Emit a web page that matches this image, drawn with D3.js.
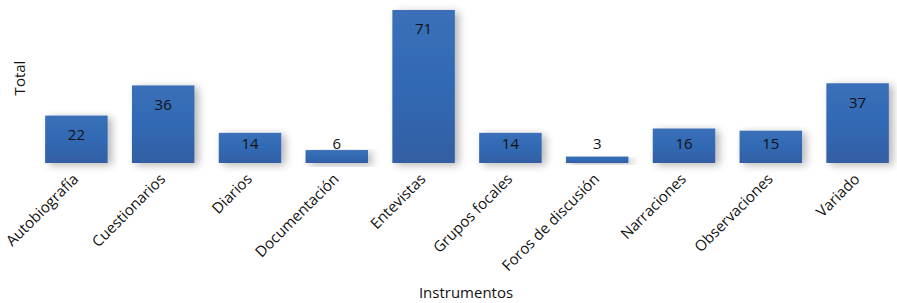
<!DOCTYPE html>
<html>
<head>
<meta charset="utf-8">
<script src="https://cdn.jsdelivr.net/npm/d3@7"></script>
<style>
  body { margin: 0; background: #fff; }
  svg { display: block; font-family: "Open Sans", "Noto Sans", sans-serif; }
</style>
</head>
<body>
<svg id="chart" width="897" height="303"></svg>
<script>
// data
var categories = ["Autobiografía", "Cuestionarios", "Diarios", "Documentación", "Entevistas",
                  "Grupos focales", "Foros de discusión", "Narraciones", "Observaciones", "Variado"];
var totals = [22, 36, 14, 6, 71, 14, 3, 16, 15, 37];

var svg = d3.select("#chart");
var baseY = 163;

var x = d3.scaleBand()
    .domain(categories)
    .range([33, 901])
    .paddingInner(0.28)
    .paddingOuter(0.14);

var y = d3.scaleLinear()
    .domain([0, 71])
    .range([baseY, 10]);

var defs = svg.append("defs");

// bar gradient, slightly darker at the bottom
var grad = defs.append("linearGradient")
    .attr("id", "barGrad")
    .attr("x1", 0).attr("y1", 0).attr("x2", 0).attr("y2", 1);
grad.append("stop").attr("offset", "0%").attr("stop-color", "#3b70b9");
grad.append("stop").attr("offset", "50%").attr("stop-color", "#3169b4");
grad.append("stop").attr("offset", "100%").attr("stop-color", "#345fa3");

// soft shadow to the lower right
var shadow = defs.append("filter")
    .attr("id", "shadow")
    .attr("x", "-20%").attr("y", "-20%")
    .attr("width", "150%").attr("height", "150%");
shadow.append("feGaussianBlur").attr("in", "SourceAlpha").attr("stdDeviation", 4).attr("result", "blur");
shadow.append("feOffset").attr("in", "blur").attr("dx", 4).attr("dy", 2).attr("result", "off");
shadow.append("feComponentTransfer").attr("in", "off").attr("result", "soft")
  .append("feFuncA").attr("type", "linear").attr("slope", 0.3);
var merge = shadow.append("feMerge");
merge.append("feMergeNode").attr("in", "soft");
merge.append("feMergeNode").attr("in", "SourceGraphic");

var data = categories.map(function(c, i) { return { cat: c, val: totals[i] }; });

svg.append("g").selectAll("rect")
    .data(data)
    .enter().append("rect")
    .attr("x", d => x(d.cat))
    .attr("y", d => y(d.val))
    .attr("width", x.bandwidth())
    .attr("height", d => baseY - y(d.val))
    .attr("fill", "url(#barGrad)")
    .attr("filter", "url(#shadow)");

// value labels
svg.append("g").selectAll("text")
    .data(data)
    .enter().append("text")
    .attr("x", d => x(d.cat) + x.bandwidth() / 2)
    .attr("y", d => Math.min(y(d.val) + 19, baseY - 19))
    .attr("dy", "0.35em")
    .attr("text-anchor", "middle")
    .attr("font-size", 15)
    .attr("fill", "#111")
    .text(d => d.val);

// category labels, rotated
svg.append("g").selectAll("text")
    .data(categories)
    .enter().append("text")
    .attr("transform", d => "translate(" + (x(d) + x.bandwidth() / 2 + 3) + "," + (baseY + 17) + ") rotate(-45)")
    .attr("text-anchor", "end")
    .attr("font-size", 15)
    .attr("fill", "#111")
    .text(d => d);

// axis titles
svg.append("text")
    .attr("x", 466)
    .attr("y", 298)
    .attr("text-anchor", "middle")
    .attr("font-size", 15)
    .attr("fill", "#111")
    .text("Instrumentos");

svg.append("text")
    .attr("transform", "translate(25,78) rotate(-90)")
    .attr("text-anchor", "middle")
    .attr("font-size", 15)
    .attr("fill", "#111")
    .text("Total");
</script>
</body>
</html>
